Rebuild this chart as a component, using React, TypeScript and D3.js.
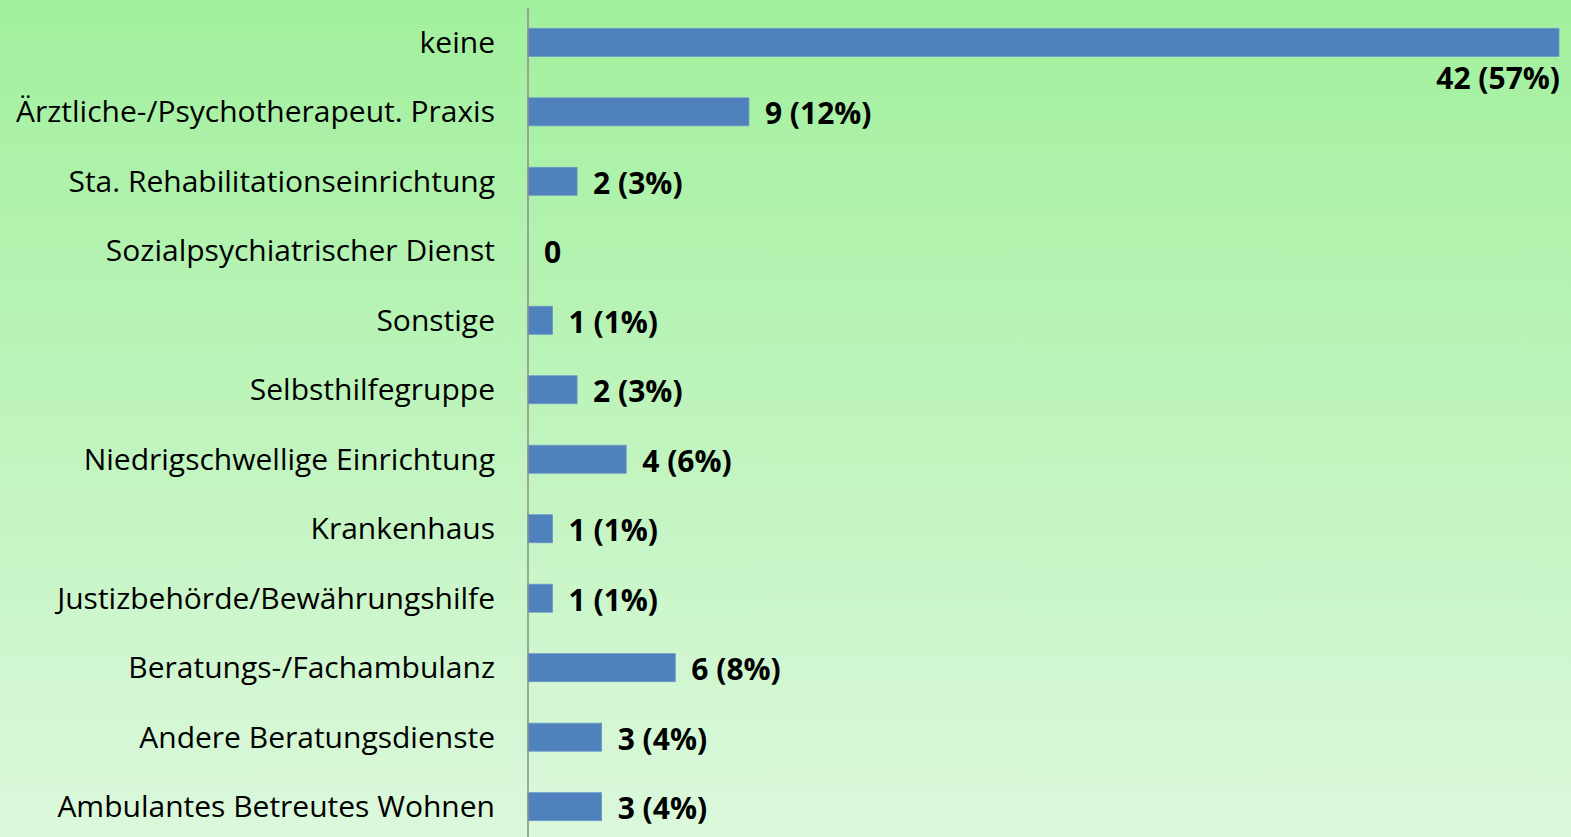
import React from 'react';
import * as d3 from 'd3';

const categories = [
  'keine',
  'Ärztliche-/Psychotherapeut. Praxis',
  'Sta. Rehabilitationseinrichtung',
  'Sozialpsychiatrischer Dienst',
  'Sonstige',
  'Selbsthilfegruppe',
  'Niedrigschwellige Einrichtung',
  'Krankenhaus',
  'Justizbehörde/Bewährungshilfe',
  'Beratungs-/Fachambulanz',
  'Andere Beratungsdienste',
  'Ambulantes Betreutes Wohnen',
];
const counts = [42, 9, 2, 0, 1, 2, 4, 1, 1, 6, 3, 3];
const percents = [57, 12, 3, 0, 1, 3, 6, 1, 1, 8, 4, 4];

const W = 1571;
const H = 837;
const axisX = 528;

const App = () => {
  const x = d3.scaleLinear().domain([0, 42]).range([axisX, 1559]);
  const y = d3.scaleBand<string>()
    .domain(categories)
    .range([7.5, 841.5])
    .paddingInner(0.597)
    .paddingOuter(0.3);

  const font = '"Open Sans", Lato, sans-serif';

  return (
    <svg width={W} height={H} style={{ position: 'absolute', left: 0, top: 0 }}>
      <defs>
        <linearGradient id="bg" x1="0" y1="0" x2="0" y2="1">
          <stop offset="0%" stopColor="#a1f09d" />
          <stop offset="100%" stopColor="#dcf8dc" />
        </linearGradient>
      </defs>
      <rect x={0} y={0} width={W} height={H} fill="url(#bg)" />
      {categories.map((c, i) => {
        const yc = (y(c) as number) + y.bandwidth() / 2;
        const v = counts[i];
        const label = v === 0 ? '0' : `${v} (${percents[i]}%)`;
        const big = i === 0;
        return (
          <g key={c}>
            <text x={495} y={yc} dy="0.35em" textAnchor="end" fontFamily={font} fontSize={30} fill="#000">
              {c}
            </text>
            {v > 0 && (
              <rect x={axisX} y={y(c)} width={x(v) - axisX} height={y.bandwidth()}
                fill="#4f81bd" stroke="#6b96cc" strokeWidth={0.8} />
            )}
            <text
              x={big ? x(v) + 1 : x(v) + 16}
              y={big ? yc + 36 : yc + 2}
              dy="0.35em"
              textAnchor={big ? 'end' : 'start'}
              fontFamily={font}
              fontSize={30}
              fontWeight="bold"
              fill="#000"
            >
              {label}
            </text>
          </g>
        );
      })}
      <line x1={axisX} x2={axisX} y1={8} y2={H} stroke="#8c8c8c" strokeWidth={1.5} />
    </svg>
  );
};

export default App;
